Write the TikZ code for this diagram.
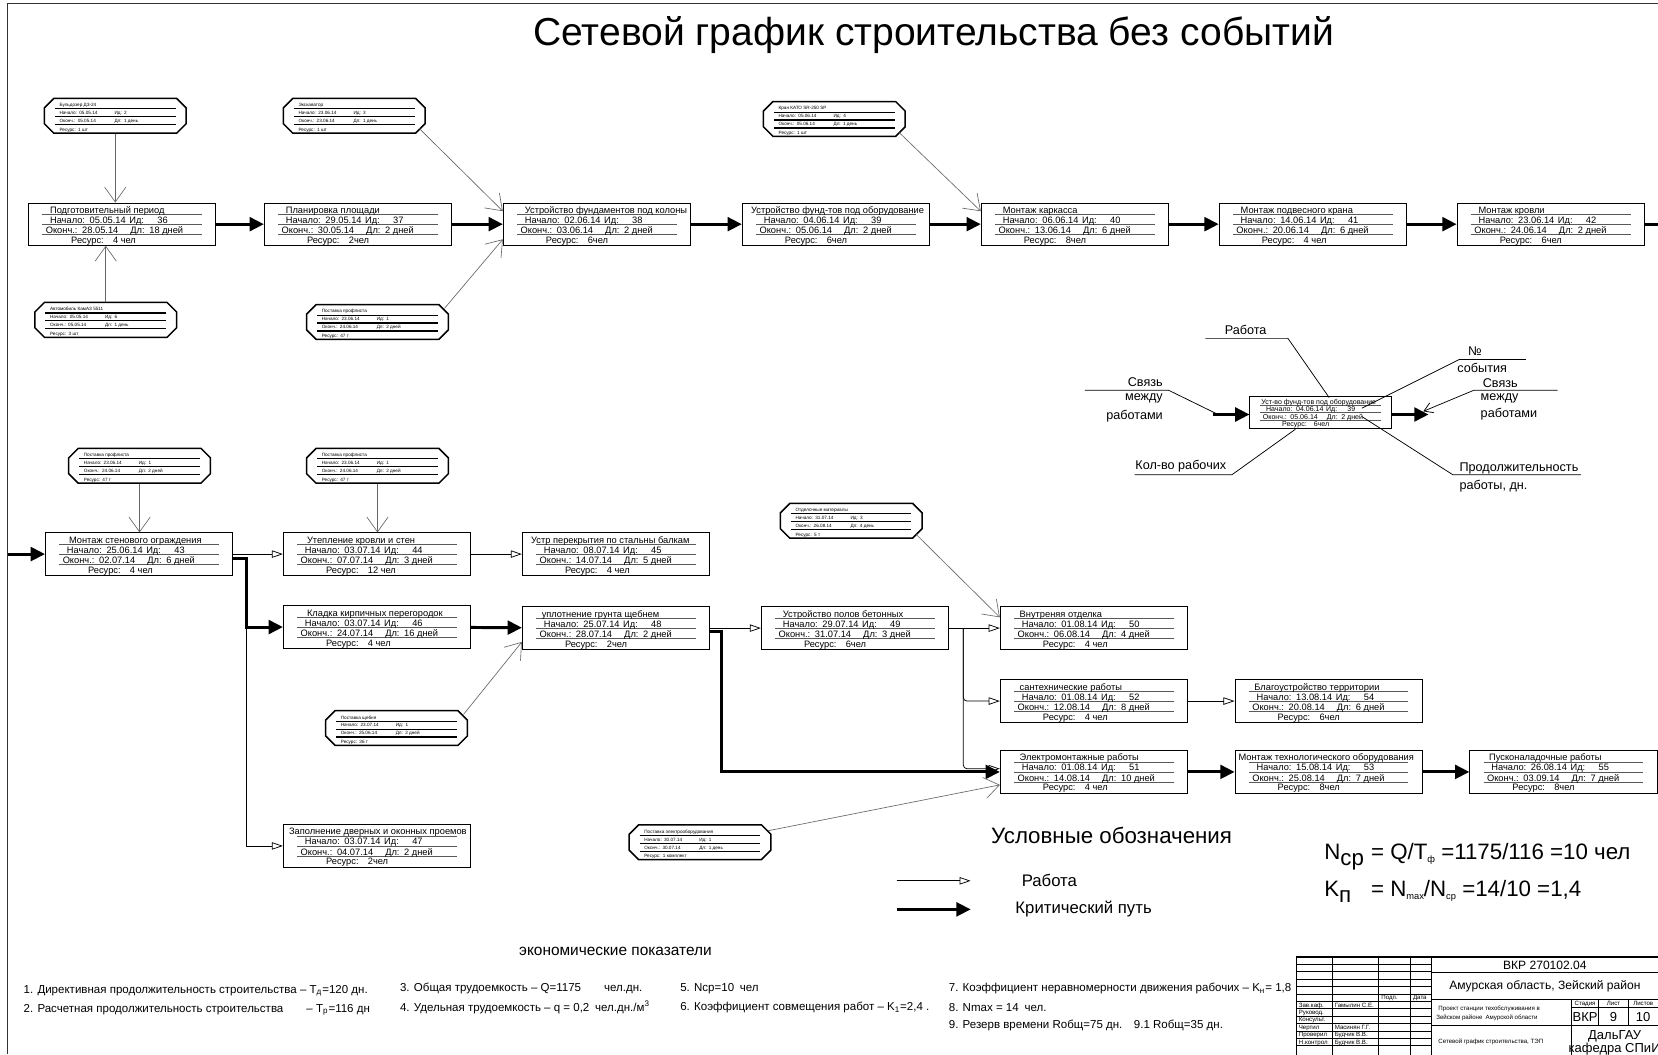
\documentclass[tikz,border=0pt]{standalone}
\usepackage{fontspec}
\setmainfont{Liberation Sans}
\usetikzlibrary{shapes,positioning,fit,calc,arrows.meta}

% work: name, corner, title shift, title, start, id, end, duration, resource
\newcommand{\worknode}[9]{%
    \node[work box] (#1) at ($(#2)+(88.5,20)$) {};
    \begin{scope}[shift={(#2)}]
        \draw[row line] (13,11) -- (164,11) (13,20.5) -- (164,20.5) (13,30) -- (164,30);
        \node[row] (#1-ttl) at (#3,9.6) {#4};
        \node[row] (#1-st) at (20,19.1) {Начало:\enspace #5};
        \node[row] (#1-idl) at (95,19.1) {Ид:};
        \node[row, anchor=base east] (#1-id) at (132,19.1) {#6};
        \node[row] (#1-en) at (16,28.6) {Оконч.:\enspace #7};
        \node[row] (#1-dl) at (96,28.6) {Дл:\enspace #8};
        \node[row] (#1-rs) at (40,38) {Ресурс:\quad #9};
    \end{scope}}

% resource: name, corner, title, start, id, end, duration, amount
\newcommand{\resnode}[8]{%
    \node[res box] (#1) at ($(#2)+(67,16.5)$) {};
    \begin{scope}[shift={(#2)}]
        \draw[res edge] (9,0) -- (125,0) -- (134,9) -- (134,24) -- (125,33)
            -- (9,33) -- (0,24) -- (0,9) -- cycle;
        \draw[res line] (10,10) -- (124,10) (10,17.5) -- (124,17.5) (10,25) -- (124,25);
        \node[res row] (#1-ttl) at (14,8) {#3};
        \node[res row] (#1-st) at (14,15.5) {Начало:\enspace #4};
        \node[res row] (#1-id) at (66,15.5) {Ид:\enspace #5};
        \node[res row] (#1-en) at (14,23) {Оконч.:\enspace #6};
        \node[res row] (#1-dl) at (66,23) {Дл:\enspace #7};
        \node[res row] (#1-rs) at (14,31) {Ресурс:\enspace #8};
    \end{scope}}

\begin{document}
\begin{tikzpicture}
    [
    x=0.2mm, y=-0.2mm,
    work box/.style={rectangle, draw, line width=0.5pt, minimum width=35.4mm,
        minimum height=8mm, inner sep=0pt},
    row line/.style={draw=black!65, line width=0.55pt},
    row/.style={anchor=base west, inner sep=0pt, font=\fontsize{5}{6}\selectfont},
    res box/.style={rectangle, minimum width=26.8mm, minimum height=6.6mm, inner sep=0pt},
    res edge/.style={line width=0.8pt},
    res line/.style={line width=0.6pt},
    res row/.style={anchor=base west, inner sep=0pt, font=\fontsize{2.5}{3}\selectfont},
    crit/.style={line width=1.6pt, -{Triangle[length=2.7mm, width=2.6mm]}},
    link/.style={line width=0.4pt, -{Triangle[open, length=2.1mm, width=1.4mm]}},
    res link/.style={draw=black!60, line width=0.35pt, -{Straight Barb[length=2.8mm, width=4mm]}},
    lead/.style={line width=0.4pt},
    lbl/.style={inner sep=0pt, font=\fontsize{6.8}{8}\selectfont},
    econ/.style={anchor=west, inner sep=0pt, font=\fontsize{6.2}{7}\selectfont},
    stamp/.style={line width=0.4pt},
    stamp txt/.style={anchor=base west, inner sep=0pt, font=\fontsize{3.3}{4}\selectfont},
    stamp big/.style={inner sep=0pt, font=\fontsize{6.5}{7}\selectfont}
    ]

    \useasboundingbox (0,0) rectangle (1568,997);
    \clip (0,0) rectangle (1568,997);
    \fill[white] (0,0) rectangle (1568,997);
    \draw[line width=0.6pt, black!80] (7,997) -- (7,3) -- (1568,3);

    \node[font=\fontsize{21}{24}\selectfont] (title) at (883,33)
        {Сетевой график строительства без событий};

    % Works
    \worknode{w36}{27,192}{20}{Подготовительный период}{05.05.14}{36}{28.05.14}{18 дней}{4 чел}
    \worknode{w37}{250,192}{20}{Планировка площади}{29.05.14}{37}{30.05.14}{2 дней}{2чел}
    \worknode{w38}{476,192}{20}{Устройство фундаментов под колоны}{02.06.14}{38}{03.06.14}{2 дней}{6чел}
    \worknode{w39}{702,192}{8}{Устройство фунд-тов под оборудование}{04.06.14}{39}{05.06.14}{2 дней}{6чел}
    \worknode{w40}{928,192}{20}{Монтаж каркасса}{06.06.14}{40}{13.06.14}{6 дней}{8чел}
    \worknode{w41}{1153,192}{20}{Монтаж подвесного крана}{14.06.14}{41}{20.06.14}{6 дней}{4 чел}
    \worknode{w42}{1378,192}{20}{Монтаж кровли}{23.06.14}{42}{24.06.14}{2 дней}{6чел}

    \worknode{w43}{43,504}{22}{Монтаж стенового ограждения}{25.06.14}{43}{02.07.14}{6 дней}{4 чел}
    \worknode{w44}{268,504}{22}{Утепление кровли и стен}{03.07.14}{44}{07.07.14}{3 дней}{12 чел}
    \worknode{w45}{494,504}{8}{Устр перекрытия по стальны балкам}{08.07.14}{45}{14.07.14}{5 дней}{4 чел}
    \worknode{w46}{268,573}{22}{Кладка кирпичных перегородок}{03.07.14}{46}{24.07.14}{16 дней}{4 чел}
    \worknode{w47}{268,780}{5}{Заполнение дверных и оконных проемов}{03.07.14}{47}{04.07.14}{2 дней}{2чел}
    \worknode{w48}{494,574}{18}{уплотнение грунта щебнем}{25.07.14}{48}{28.07.14}{2 дней}{2чел}
    \worknode{w49}{720,574}{20}{Устройство полов бетонных}{29.07.14}{49}{31.07.14}{3 дней}{6чел}
    \worknode{w50}{946,574}{18}{Внутреняя отделка}{01.08.14}{50}{06.08.14}{4 дней}{4 чел}
    \worknode{w52}{946,643}{18}{сантехнические работы}{01.08.14}{52}{12.08.14}{8 дней}{4 чел}
    \worknode{w54}{1168,643}{18}{Благоустройство территории}{13.08.14}{54}{20.08.14}{6 дней}{6чел}
    \worknode{w51}{946,710}{18}{Электромонтажные работы}{01.08.14}{51}{14.08.14}{10 дней}{4 чел}
    \worknode{w53}{1168,710}{3}{Монтаж технологического оборудования}{15.08.14}{53}{25.08.14}{7 дней}{8чел}
    \worknode{w55}{1390,710}{18}{Пусконаладочные работы}{26.08.14}{55}{03.09.14}{7 дней}{8чел}

    % Resources
    \resnode{rbuld}{42,93}{Бульдозер ДЗ-24}{05.05.14}{2}{05.05.14}{1 день}{1 шт}
    \resnode{rkamaz}{33,286}{Автомобиль КамАЗ 5511}{05.05.14}{6}{05.05.14}{1 день}{3 шт}
    \resnode{rexc}{268,93}{Экскаватор}{23.06.14}{3}{23.06.14}{1 день}{1 шт}
    \resnode{rprofa}{290,288}{Поставка профлиста}{23.06.14}{1}{24.06.14}{2 дней}{47 т}
    \resnode{rkran}{722,96}{Кран КАТО SR-250 SP}{05.06.14}{4}{05.06.14}{1 день}{1 шт}
    \resnode{rprofb}{65,424}{Поставка профлиста}{23.06.14}{1}{24.06.14}{2 дней}{47 т}
    \resnode{rprofc}{290,424}{Поставка профлиста}{23.06.14}{1}{24.06.14}{2 дней}{47 т}
    \resnode{rotd}{738,476}{Отделочные материалы}{31.07.14}{3}{26.08.14}{4 день}{5 т}
    \resnode{rsheb}{308,672}{Поставка щебня}{23.07.14}{1}{25.06.14}{2 дней}{36 т}
    \resnode{relec}{595,780}{Поставка электрооборудования}{30.07.14}{1}{30.07.14}{1 день}{1 комплект}

    % Critical path
    \foreach \a/\b in {36/37, 37/38, 38/39, 39/40, 40/41, 41/42, 46/48, 51/53, 53/55}
        \draw[crit] (w\a) -- (w\b);
    \coordinate (out) at (1568,212);
    \coordinate (in) at (8,524);
    \coordinate (j1) at (233,528);
    \coordinate (j2) at (682,597);
    \coordinate (j3) at (911,594);
    \draw[crit, -] (w42) -- (out);
    \draw[crit] (in) -- (w43);
    \draw[crit] (w43.east |- j1) -- (j1) |- (w46);
    \draw[crit] (w48.east |- j2) -- (j2) |- (w51);

    % Links
    \foreach \a/\b in {43/44, 44/45, 48/49, 49/50, 52/54}
        \draw[link] (w\a) -- (w\b);
    \draw[link] (j1) |- (w47);
    \draw[link, rounded corners=2] (j3) |- (w52);
    \draw[link, rounded corners=2] (j3) |- ($(w51.west)+(0,-3)$);

    \draw[res link] (rbuld) -- (rbuld |- w36.north);
    \draw[res link] (rkamaz) -- (rkamaz |- w36.south);
    \draw[res link] ($(rexc.south east)+(-6,-5)$) -- ($(w38.north west)!0.2!(w38.south west)$);
    \draw[res link] ($(rprofa.north east)+(-4,4)$) -- ($(w38.north west)!0.85!(w38.south west)$);
    \draw[res link] ($(rkran.south east)+(-6,-4)$) -- ($(w40.north west)!0.2!(w40.south west)$);
    \draw[res link] (rprofb) -- (rprofb |- w43.north);
    \draw[res link] (rprofc) -- (rprofc |- w44.north);
    \draw[res link] ($(rotd.south east)+(-6,-4)$) -- ($(w50.north west)!0.25!(w50.south west)$);
    \draw[res link] ($(rsheb.north east)+(-4,4)$) -- ($(w48.north west)!0.82!(w48.south west)$);
    \draw[res link] ($(relec.north east)+(-3,6)$) -- ($(w51.north west)!0.8!(w51.south west)$);

    % Key of one work
    \begin{scope}[shift={(1182,375)}, scale=0.757, transform shape]
        \worknode{lw}{0,0}{14}{Уст-во фунд-тов под оборудование}{04.06.14}{39}{05.06.14}{2 дней}{6чел}
    \end{scope}
    \coordinate (lin) at (1147,392);
    \coordinate (lout) at (1351,392);
    \draw[crit] (lin) -- (lw.west |- lin);
    \draw[crit] (lw.east |- lout) -- (lout);

    \node[lbl] (k-rab) at (1178,312) {Работа};
    \node[lbl, anchor=east] (k-sv1) at (1100,361) {Связь};
    \node[lbl, anchor=east] (k-sv2) at (1100,377) {между};
    \node[lbl, anchor=east] (k-sv3) at (1100,394) {работами};
    \node[lbl, anchor=west] (k-no1) at (1388,332) {№};
    \node[lbl, anchor=west] (k-no2) at (1378,348) {события};
    \node[lbl, anchor=west] (k-sv4) at (1402,362) {Связь};
    \node[lbl, anchor=west] (k-sv5) at (1400,377) {между};
    \node[lbl, anchor=west] (k-sv6) at (1400,392) {работами};
    \node[lbl, anchor=east] (k-kol) at (1160,441) {Кол-во рабочих};
    \node[lbl, anchor=west] (k-pr1) at (1380,443) {Продолжительность};
    \node[lbl, anchor=west] (k-pr2) at (1380,460) {работы, дн.};

    \draw[lead] (1140,320) -- (1218,320) -- (1257,376);
    \draw[lead] (1026,369) -- (1105,369) -- (1150,391);
    \draw[lead] (1443,340) -- (1380,340) -- (1288,386);
    \draw[lead, -{Straight Barb[length=1.6mm, width=2mm]}] (1473,369) -- (1394,369) -- (1346,389);
    \draw[lead] (1073,449) -- (1165,449) -- (1225,406);
    \draw[lead] (1495,449) -- (1374,449) -- (1288,394);

    % Legend
    \node[anchor=west, inner sep=0pt, font=\fontsize{12}{14}\selectfont] (leg) at (937,790)
        {Условные обозначения};
    \coordinate (ka) at (848,833);
    \coordinate (kb) at (918,833);
    \coordinate (kc) at (848,860);
    \coordinate (kd) at (918,860);
    \draw[link] (ka) -- (kb);
    \draw[crit] (kc) -- (kd);
    \node[anchor=west, inner sep=0pt, font=\fontsize{9}{10}\selectfont] (leg-a) at (966,833) {Работа};
    \node[anchor=west, inner sep=0pt, font=\fontsize{9}{10}\selectfont] (leg-b) at (960,860) {Критический путь};

    \node[anchor=base west, inner sep=0pt, font=\fontsize{12}{14}\selectfont] (ncp) at (1252,813)
        {\makebox[2.1em][l]{N\raisebox{-3pt}{ср}}= Q/T\raisebox{-1.5pt}{\fontsize{5}{5}\selectfont ф} =1175/116 =10 чел};
    \node[anchor=base west, inner sep=0pt, font=\fontsize{12}{14}\selectfont] (kp) at (1252,848)
        {\makebox[2.1em][l]{K\raisebox{-3pt}{п}}= N\raisebox{-1.5pt}{\fontsize{5}{5}\selectfont max}/N\raisebox{-1.5pt}{\fontsize{5}{5}\selectfont ср} =14/10 =1,4};

    % Economic figures
    \node[font=\fontsize{8.3}{9}\selectfont] (eco) at (582,900) {экономические показатели};
    \node[econ] (e1) at (22,937) {1. Директивная продолжительность строительства – T\textsubscript{д}=120 дн.};
    \node[econ] (e2) at (22,955) {2. Расчетная продолжительность строительства\qquad – T\textsubscript{р}=116 дн};
    \node[econ] (e3) at (378,935) {3. Общая трудоемкость – Q=1175\qquad чел.дн.};
    \node[econ] (e4) at (378,953) {4. Удельная трудоемкость – q = 0,2\enspace чел.дн./м\textsuperscript{3}};
    \node[econ] (e5) at (643,935) {5. Nср=10\enspace чел};
    \node[econ] (e6) at (643,953) {6. Коэффициент совмещения работ – K\textsubscript{1}=2,4 .};
    \node[econ] (e7) at (897,935) {7. Коэффициент неравномерности движения рабочих – K\textsubscript{н}= 1,8};
    \node[econ] (e8) at (897,953) {8. Nmax = 14\enspace чел.};
    \node[econ] (e9) at (897,970) {9. Резерв времени Rобщ=75 дн.\quad 9.1 Rобщ=35 дн.};

    % Title block
    \draw[stamp, line width=0.6pt] (1226,905) rectangle (1580,1005);
    \foreach \c in {1260, 1304, 1334}
        \draw[stamp] (\c,905) -- (\c,1005);
    \draw[stamp, line width=0.6pt] (1354,905) -- (1354,1005);
    \foreach \r in {912, 919, 926, 933, 940, 947, 954, 961, 968, 975, 982, 989}
        \draw[stamp] (1226,\r) -- (1354,\r);
    \draw[stamp] (1354,920) -- (1580,920);
    \draw[stamp] (1354,945) -- (1580,945);
    \draw[stamp] (1486,953) -- (1580,953);
    \draw[stamp] (1354,970) -- (1580,970);
    \draw[stamp] (1486,945) -- (1486,1005);
    \foreach \c in {1512, 1540}
        \draw[stamp] (\c,945) -- (\c,970);

    \node[stamp txt] (s-pd) at (1306,945.5) {Подп.};
    \node[stamp txt] (s-dt) at (1336,945.5) {Дата};
    \node[stamp txt] (s-l1) at (1228,952.5) {Зав.каф.};
    \node[stamp txt] (s-n1) at (1262,952.5) {Гамылин С.Е.};
    \node[stamp txt] (s-l2) at (1228,959.5) {Руковод.};
    \node[stamp txt] (s-l3) at (1228,966.5) {Консульт.};
    \node[stamp txt] (s-l4) at (1228,973.5) {Чертил};
    \node[stamp txt] (s-n4) at (1262,973.5) {Масинян Г.Г.};
    \node[stamp txt] (s-l5) at (1228,980.5) {Проверил};
    \node[stamp txt] (s-n5) at (1262,980.5) {Будчик В.В.};
    \node[stamp txt] (s-l6) at (1228,987.5) {Н.контрол};
    \node[stamp txt] (s-n6) at (1262,987.5) {Будчик В.В.};

    \node[stamp big] (s-code) at (1461,913) {ВКР 270102.04};
    \node[stamp big] (s-reg) at (1461,933) {Амурская область, Зейский район};
    \node[stamp txt] (s-pr1) at (1360,956) {Проект станции техобслуживания в};
    \node[stamp txt] (s-pr2) at (1358,964) {Зейском районе\enspace Амурской области};
    \node[stamp txt] (s-net) at (1360,987) {Сетевой график строительства, ТЭП};
    \node[stamp txt, anchor=base] (s-st) at (1499,951) {Стадия};
    \node[stamp txt, anchor=base] (s-ls) at (1526,951) {Лист};
    \node[stamp txt, anchor=base] (s-lv) at (1554,951) {Листов};
    \node[stamp big, font=\fontsize{7}{8}\selectfont] (s-vkr) at (1499,962) {ВКР};
    \node[stamp big, font=\fontsize{7}{8}\selectfont] (s-9) at (1526,962) {9};
    \node[stamp big, font=\fontsize{7}{8}\selectfont] (s-10) at (1554,962) {10};
    \node[stamp big, font=\fontsize{7}{8}\selectfont] (s-uni) at (1527,980) {ДальГАУ};
    \node[stamp big, font=\fontsize{7}{8}\selectfont] (s-kaf) at (1527,992) {кафедра СПиИ};

\end{tikzpicture}
\end{document}
